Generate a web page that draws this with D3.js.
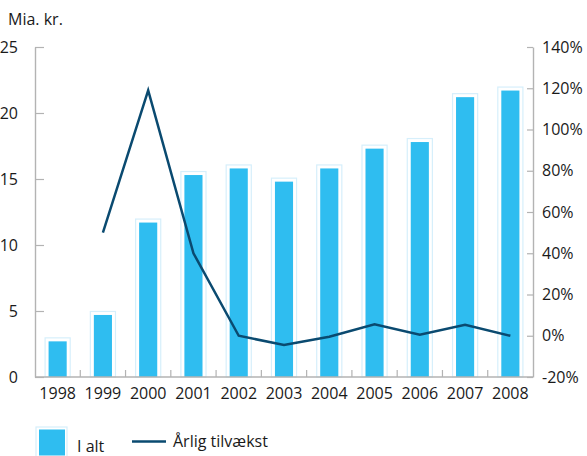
<!DOCTYPE html>
<html>
<head>
<meta charset="utf-8">
<script src="https://cdn.jsdelivr.net/npm/d3@7"></script>
<style>
  html, body { margin: 0; padding: 0; background: #fff; }
  svg { display: block; }
  text { font-family: "Open Sans", "Noto Sans", sans-serif; fill: #1a1a1a; }
</style>
</head>
<body>
<svg id="chart" width="587" height="456"></svg>
<script>
// Years on the x axis
const years = ["1998","1999","2000","2001","2002","2003","2004","2005","2006","2007","2008"];
// Total amount, billion DKK (left axis)
const totals = [2.7, 4.7, 11.7, 15.3, 15.8, 14.8, 15.8, 17.3, 17.8, 21.2, 21.7];
// Annual growth in percent (right axis); no value for the first year
const growth = [null, 50, 119, 40, 0, -4.5, -0.5, 5.5, 0.5, 5.3, 0];
// Tick labels
const leftTicks = [0, 5, 10, 15, 20, 25];
const rightTicks = [-20, 0, 20, 40, 60, 80, 100, 120, 140];

const svg = d3.select("#chart");
const plotLeft = 35, plotRight = 533, plotTop = 47, plotBottom = 377;

const axisColor = "#b3b3b3";
const barColor = "#2fbdf0";
const barHalo = "#d6effb";
const lineColor = "#0a4a70";

const x = d3.scaleBand().domain(years).range([plotLeft, plotRight]).padding(0);
const yL = d3.scaleLinear().domain([0, 25]).range([plotBottom, plotTop]);
const yR = d3.scaleLinear().domain([-20, 140]).range([plotBottom, plotTop]);

const barW = x.bandwidth() * 0.4;
const haloPad = 3.5;

// Bars with a pale outline frame
const bars = svg.append("g");
years.forEach((yr, i) => {
  const cx = x(yr) + x.bandwidth() / 2;
  bars.append("rect")
    .attr("x", cx - barW / 2 - haloPad)
    .attr("y", yL(totals[i]) - haloPad)
    .attr("width", barW + 2 * haloPad)
    .attr("height", yL(0) - yL(totals[i]) + haloPad)
    .attr("fill", "#fff")
    .attr("stroke", barHalo)
    .attr("stroke-width", 1.2);
  bars.append("rect")
    .attr("x", cx - barW / 2)
    .attr("y", yL(totals[i]))
    .attr("width", barW)
    .attr("height", yL(0) - yL(totals[i]))
    .attr("fill", barColor);
});

// Left axis
const gL = svg.append("g").attr("transform", `translate(${plotLeft},0)`)
  .call(d3.axisLeft(yL).tickValues(leftTicks).tickSizeInner(-9).tickSizeOuter(0).tickPadding(17));
// Right axis
const gR = svg.append("g").attr("transform", `translate(${plotRight},0)`)
  .call(d3.axisRight(yR).tickValues(rightTicks).tickSizeInner(-6).tickSizeOuter(0).tickPadding(9)
    .tickFormat(d => d + "%"));
// Bottom axis: labels centred on bands, ticks between bands
const gB = svg.append("g").attr("transform", `translate(0,${plotBottom})`)
  .call(d3.axisBottom(x).tickSize(0).tickPadding(11));
gB.select(".domain").remove();
svg.append("g").selectAll("line")
  .data(years.slice(1))
  .join("line")
  .attr("x1", d => x(d)).attr("x2", d => x(d))
  .attr("y1", plotBottom).attr("y2", plotBottom - 7)
  .attr("stroke", axisColor).attr("stroke-width", 1.2);
svg.append("line")
  .attr("x1", plotLeft).attr("x2", plotRight)
  .attr("y1", plotBottom).attr("y2", plotBottom)
  .attr("stroke", axisColor).attr("stroke-width", 1.4);

[gL, gR].forEach(g => {
  g.select(".domain").attr("stroke", axisColor).attr("stroke-width", 1.4);
  g.selectAll(".tick line").attr("stroke", axisColor).attr("stroke-width", 1.2);
});
[gL, gR, gB].forEach(g => {
  g.selectAll("text").attr("font-size", 16).style("font-family", "'Open Sans', 'Noto Sans', sans-serif").attr("fill", "#1a1a1a");
});
gL.selectAll(".tick text").attr("text-anchor", "end");

// Growth line
const line = d3.line()
  .defined(d => d.v !== null)
  .x(d => x(d.yr) + x.bandwidth() / 2)
  .y(d => yR(d.v));
svg.append("path")
  .datum(years.map((yr, i) => ({ yr, v: growth[i] })))
  .attr("d", line)
  .attr("fill", "none")
  .attr("stroke", lineColor)
  .attr("stroke-width", 2.5)
  .attr("stroke-linejoin", "miter");

// Unit label
svg.append("text").attr("x", 8).attr("y", 25).attr("font-size", 16).text("Mia. kr.");

// Legend
const lg = svg.append("g");
lg.append("rect").attr("x", 36).attr("y", 427).attr("width", 31).attr("height", 31)
  .attr("fill", "#fff").attr("stroke", barHalo).attr("stroke-width", 1.2);
lg.append("rect").attr("x", 39).attr("y", 429.5).attr("width", 26).attr("height", 26)
  .attr("fill", barColor);
lg.append("text").attr("x", 77).attr("y", 452).attr("font-size", 16).text("I alt");
lg.append("line").attr("x1", 132).attr("x2", 166).attr("y1", 441.5).attr("y2", 441.5)
  .attr("stroke", lineColor).attr("stroke-width", 2.5);
lg.append("text").attr("x", 173).attr("y", 447).attr("font-size", 16).text("Årlig tilvækst");
</script>
</body>
</html>
